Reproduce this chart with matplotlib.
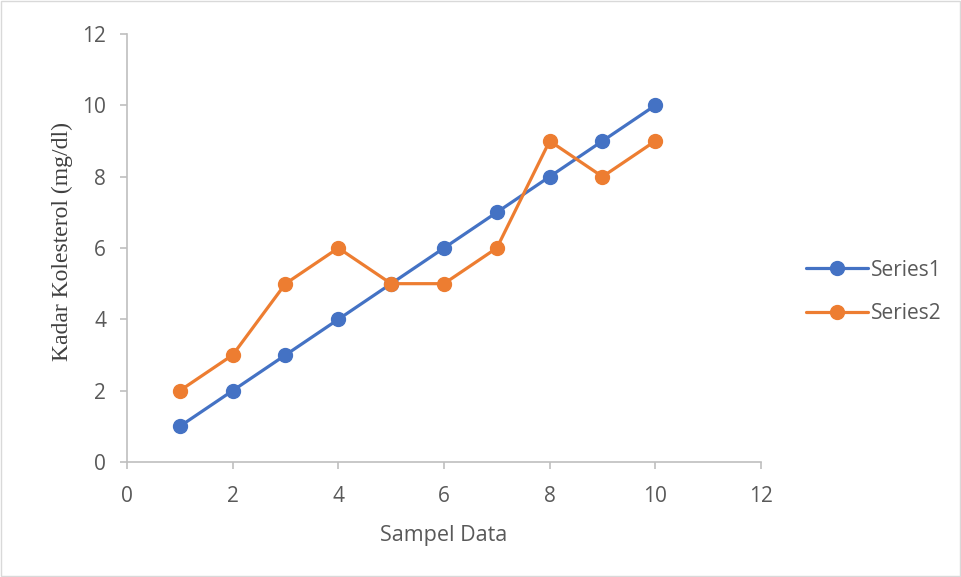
import matplotlib
matplotlib.use("Agg")
import matplotlib.pyplot as plt
from matplotlib.patches import Rectangle

# data
sampel = [1, 2, 3, 4, 5, 6, 7, 8, 9, 10]
series1 = [1, 2, 3, 4, 5, 6, 7, 8, 9, 10]
series2 = [2, 3, 5, 6, 5, 5, 6, 9, 8, 9]
ticks = [0, 2, 4, 6, 8, 10, 12]

BLUE = "#4472C4"
ORANGE = "#ED7D31"
GRID = "#BFBFBF"
TXT = "#595959"
SANS = ["Open Sans", "DejaVu Sans"]

fig = plt.figure(figsize=(9.62, 5.77), dpi=100)
fig.patches.append(Rectangle((0.001, 0.001), 0.997, 0.997, transform=fig.transFigure,
                             fill=False, edgecolor="#D9D9D9", linewidth=1))
ax = fig.add_axes([127 / 962, 1 - 462 / 577, (761 - 127) / 962, (462 - 34) / 577])

ax.plot(sampel, series1, color=BLUE, lw=2.3, marker="o", ms=10, label="Series1",
        solid_capstyle="round", zorder=3)
ax.plot(sampel, series2, color=ORANGE, lw=2.3, marker="o", ms=10, label="Series2",
        solid_capstyle="round", zorder=3)

ax.set_xlim(0, 12)
ax.set_ylim(0, 12)
ax.set_xticks(ticks)
ax.set_yticks(ticks)
for side in ("top", "right"):
    ax.spines[side].set_visible(False)
for side in ("left", "bottom"):
    ax.spines[side].set_color(GRID)
    ax.spines[side].set_linewidth(1.2)
ax.tick_params(colors=GRID, labelcolor=TXT, length=5, width=1.2, labelsize=15,
               direction="out")
ax.tick_params(axis="x", pad=12)
ax.tick_params(axis="y", pad=10)
for lab in ax.get_xticklabels() + ax.get_yticklabels():
    lab.set_family(SANS)

ax.set_xlabel("Sampel Data", color=TXT, fontsize=15.5, family=SANS, labelpad=13)
ax.set_ylabel("Kadar Kolesterol (mg/dl)", color="#404040", fontsize=17,
              family=["Liberation Serif", "DejaVu Serif"], va="center")
ax.yaxis.set_label_coords(-0.1025, 0.515)

leg = ax.legend(loc="center left", bbox_to_anchor=(787 / 962, 1 - 292 / 577),
                bbox_transform=fig.transFigure, frameon=False,
                labelspacing=1.1, handlelength=3.0, handletextpad=0.15,
                prop={"family": SANS, "size": 15})
for t in leg.get_texts():
    t.set_color(TXT)

fig.savefig("out.png", dpi=100)
